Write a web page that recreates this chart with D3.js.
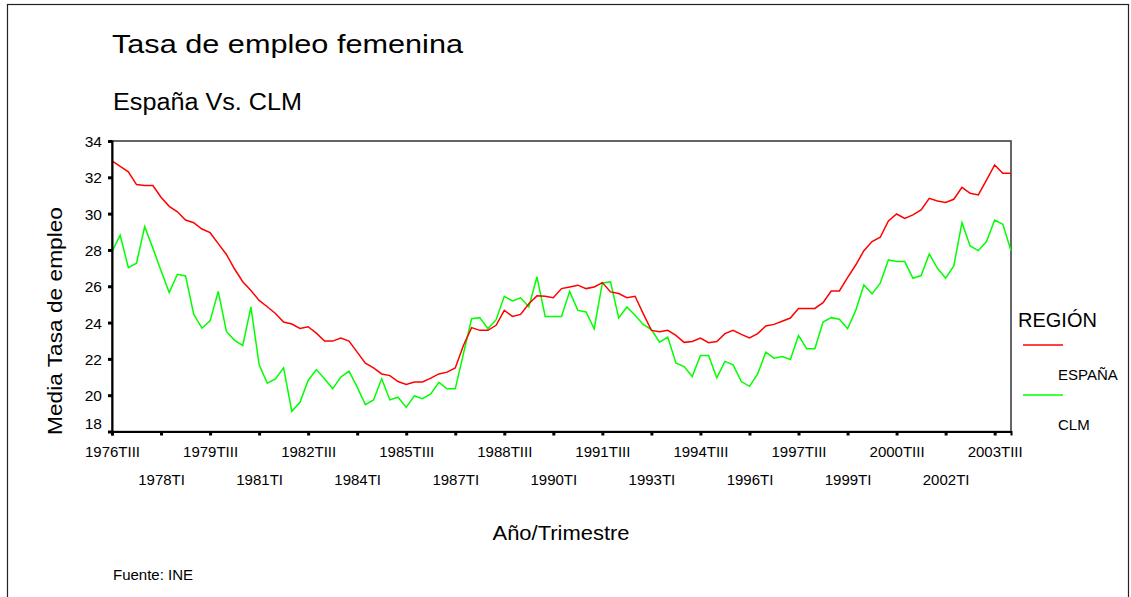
<!DOCTYPE html>
<html>
<head>
<meta charset="utf-8">
<script src="https://cdn.jsdelivr.net/npm/d3@7"></script>
<style>
    body { margin: 0; background: white; }
    text { font-family: "Liberation Sans", Arial, sans-serif; fill: black; }
</style>
</head>
<body>
<svg id="chart"></svg>
<script>
// quarters 1976TIII .. 2004TI
var qNames = ["TI", "TII", "TIII", "TIV"]
var quarters = []
for (var k = 2; k < 113; k++) quarters.push((1976 + Math.floor(k / 4)) + qNames[k % 4])

var tickLabels = ["1976TIII", "1978TI", "1979TIII", "1981TI", "1982TIII", "1984TI", "1985TIII",
    "1987TI", "1988TIII", "1990TI", "1991TIII", "1993TI", "1994TIII", "1996TI", "1997TIII",
    "1999TI", "2000TIII", "2002TI", "2003TIII"]

var yTicks = [18, 20, 22, 24, 26, 28, 30, 32, 34]

var espana = [32.9, 32.6, 32.3, 31.6, 31.55, 31.55, 30.9, 30.4, 30.1, 29.65,
    29.5, 29.15, 28.95, 28.35, 27.75, 26.95, 26.25, 25.77, 25.22, 24.87,
    24.5, 24.03, 23.92, 23.68, 23.77, 23.42, 22.98, 22.98, 23.15, 22.98,
    22.37, 21.76, 21.5, 21.17, 21.08, 20.75, 20.59, 20.73, 20.73, 20.94,
    21.17, 21.27, 21.5, 22.74, 23.72, 23.57, 23.57, 23.85, 24.67, 24.34,
    24.45, 25.04, 25.47, 25.45, 25.37, 25.87, 25.96, 26.06, 25.87, 25.96,
    26.2, 25.69, 25.6, 25.37, 25.45, 24.49, 23.57, 23.5, 23.57, 23.29,
    22.91, 22.96, 23.15, 22.89, 22.96, 23.39, 23.57, 23.35, 23.15, 23.39,
    23.81, 23.9, 24.07, 24.25, 24.77, 24.78, 24.78, 25.1, 25.74, 25.74,
    26.48, 27.17, 27.96, 28.46, 28.7, 29.6, 29.98, 29.74, 29.93, 30.2,
    30.84, 30.7, 30.61, 30.79, 31.45, 31.12, 31.03, 31.85, 32.68, 32.22,
    32.22]

var clm = [27.91, 28.81, 27.03, 27.27, 29.28, 28.1, 26.85, 25.65, 26.66, 26.57,
    24.46, 23.69, 24.09, 25.72, 23.51, 23.02, 22.74, 24.86, 21.69, 20.66,
    20.9, 21.51, 19.11, 19.61, 20.81, 21.41, 20.9, 20.35, 21.0, 21.32,
    20.44, 19.48, 19.74, 20.9, 19.74, 19.89, 19.33, 19.96, 19.81, 20.07,
    20.71, 20.35, 20.35, 22.28, 24.21, 24.27, 23.66, 24.16, 25.45, 25.19,
    25.36, 24.86, 26.52, 24.34, 24.34, 24.34, 25.72, 24.67, 24.58, 23.66,
    26.18, 26.24, 24.25, 24.86, 24.4, 23.9, 23.61, 22.92, 23.2, 21.78,
    21.58, 21.03, 22.19, 22.19, 20.95, 21.86, 21.67, 20.75, 20.49, 21.17,
    22.37, 22.04, 22.13, 21.97, 23.29, 22.56, 22.56, 24.03, 24.27, 24.18,
    23.66, 24.67, 26.07, 25.58, 26.17, 27.45, 27.36, 27.36, 26.44, 26.59,
    27.78, 26.99, 26.44, 27.12, 29.5, 28.22, 27.96, 28.46, 29.65, 29.41,
    27.96]

var width = 1131
var height = 597
var plotLeft = 112, plotRight = 1011, plotTop = 141, plotBottom = 431.5

var svg = d3.select("#chart")
    .attr("width", width)
    .attr("height", height)

// outer frame
svg.append("rect")
    .attr("x", 7.5).attr("y", 4.5)
    .attr("width", 1121).attr("height", 620)
    .attr("fill", "none")
    .attr("stroke", "#222")
    .attr("stroke-width", 1.2)

svg.append("text")
    .attr("x", plotLeft).attr("y", 53)
    .attr("font-size", 26)
    .attr("textLength", 351).attr("lengthAdjust", "spacingAndGlyphs")
    .text("Tasa de empleo femenina")

svg.append("text")
    .attr("x", 113).attr("y", 110)
    .attr("font-size", 23)
    .attr("textLength", 189).attr("lengthAdjust", "spacingAndGlyphs")
    .text("España Vs. CLM")

var x = d3.scalePoint()
    .domain(quarters)
    .range([plotLeft, plotRight])

var y = d3.scaleLinear()
    .domain([18, 34])
    .range([plotBottom, plotTop])

// plot frame
svg.append("rect")
    .attr("x", plotLeft).attr("y", plotTop)
    .attr("width", plotRight - plotLeft).attr("height", plotBottom - plotTop)
    .attr("fill", "none")
    .attr("stroke", "#333")
    .attr("stroke-width", 1.5)

var line = d3.line()
    .x(function(d, i) { return x(quarters[i]) })
    .y(function(d) { return y(d) })

svg.append("path")
    .datum(clm)
    .attr("fill", "none")
    .attr("stroke", "#00ff00")
    .attr("stroke-width", 1.5)
    .attr("d", line)

svg.append("path")
    .datum(espana)
    .attr("fill", "none")
    .attr("stroke", "#ff0000")
    .attr("stroke-width", 1.5)
    .attr("d", line)

// y axis
var yAxis = svg.append("g")
    .attr("transform", "translate(" + plotLeft + ",0)")
    .call(d3.axisLeft(y).tickValues(yTicks).tickSize(4).tickPadding(6))
yAxis.select(".domain").attr("stroke", "black").attr("stroke-width", 2)
yAxis.selectAll(".tick line").attr("stroke", "black").attr("stroke-width", 3)
yAxis.selectAll(".tick text")
    .attr("font-size", 15.5)
    .attr("font-family", "Liberation Sans, Arial, sans-serif")
    .attr("dy", function(d) { return d == 18 ? "-0.2em" : "0.35em" })

// x axis
var xAxis = svg.append("g")
    .attr("transform", "translate(0," + plotBottom + ")")
    .call(d3.axisBottom(x).tickValues(tickLabels).tickSize(4))
xAxis.select(".domain").attr("stroke", "black").attr("stroke-width", 2)
xAxis.selectAll(".tick line").attr("stroke", "black").attr("stroke-width", 3)
xAxis.selectAll(".tick text")
    .attr("font-size", 15)
    .attr("font-family", "Liberation Sans, Arial, sans-serif")
    .attr("dy", 0)
    .attr("y", function(d, i) { return i % 2 == 0 ? 25 : 53 })

svg.append("text")
    .attr("transform", "translate(62,321) rotate(-90)")
    .attr("text-anchor", "middle")
    .attr("font-size", 20)
    .attr("textLength", 228).attr("lengthAdjust", "spacingAndGlyphs")
    .text("Media Tasa de empleo")

svg.append("text")
    .attr("x", 561).attr("y", 540)
    .attr("text-anchor", "middle")
    .attr("font-size", 20)
    .attr("textLength", 137).attr("lengthAdjust", "spacingAndGlyphs")
    .text("Año/Trimestre")

svg.append("text")
    .attr("x", 113).attr("y", 580)
    .attr("font-size", 15)
    .text("Fuente: INE")

// legend
var legendItems = [{name: "ESPAÑA", color: "#ff0000"}, {name: "CLM", color: "#00ff00"}]

svg.append("text")
    .attr("x", 1018).attr("y", 327)
    .attr("font-size", 20)
    .text("REGIÓN")

var lg = svg.selectAll("g.legend")
    .data(legendItems)
    .enter()
    .append("g")
    .attr("class", "legend")
    .attr("transform", function(d, i) { return "translate(0," + (i * 50) + ")" })

lg.append("line")
    .attr("x1", 1023).attr("x2", 1063)
    .attr("y1", 345).attr("y2", 345)
    .attr("stroke", function(d) { return d.color })
    .attr("stroke-width", 1.5)

lg.append("text")
    .attr("x", 1058).attr("y", 380)
    .attr("font-size", 15)
    .text(function(d) { return d.name })
</script>
</body>
</html>
